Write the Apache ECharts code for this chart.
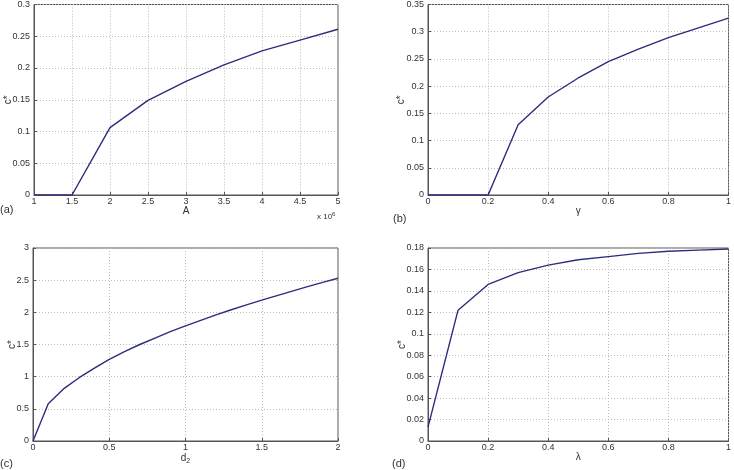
<!DOCTYPE html>
<html><head><meta charset="utf-8">
<script src="https://cdn.jsdelivr.net/npm/echarts@6/dist/echarts.min.js"></script>
<style>html,body{margin:0;padding:0;background:#fff}#c{width:734px;height:470px}</style>
</head><body><div id="c"></div>
<script>
// Panel (a): A (x 10^6) vs c*
const aX = [1, 1.5, 2, 2.5, 3, 3.5, 4, 4.5, 5];
const aY = [0, 0, 0.106, 0.149, 0.179, 0.205, 0.227, 0.244, 0.261];
// Panel (b): gamma vs c*
const bX = [0, 0.1, 0.2, 0.3, 0.4, 0.5, 0.6, 0.7, 0.8, 0.9, 1.0];
const bY = [0, 0, 0, 0.129, 0.180, 0.215, 0.245, 0.268, 0.289, 0.307, 0.325];
// Panel (c): d2 vs c*
const cX = [0, 0.1, 0.2, 0.3, 0.4, 0.5, 0.6, 0.7, 0.8, 0.9, 1.0, 1.1, 1.2, 1.3, 1.4, 1.5, 1.6, 1.7, 1.8, 1.9, 2.0];
const cY = [0, 0.58, 0.81, 0.98, 1.13, 1.27, 1.39, 1.50, 1.60, 1.70, 1.79, 1.875, 1.96, 2.04, 2.115, 2.19, 2.26, 2.33, 2.40, 2.465, 2.53];
// Panel (d): lambda vs c*
const dX = [0, 0.1, 0.2, 0.3, 0.4, 0.5, 0.6, 0.7, 0.8, 0.9, 1.0];
const dY = [0.013, 0.122, 0.146, 0.157, 0.164, 0.169, 0.172, 0.175, 0.177, 0.178, 0.179];

const FONT = '"Liberation Sans", Arial, sans-serif';
const LINE = '#2b2d7c';
const TXT = '#333';

const grids = [
  {left: 34, top: 3, width: 304, height: 192},
  {left: 428, top: 3, width: 305, height: 192},
  {left: 33, top: 248, width: 305, height: 193},
  {left: 428, top: 248, width: 305, height: 193}
].map(g => Object.assign(g, {show: true, borderColor: '#555', borderWidth: 1, backgroundColor: '#fff'}));

function xAx(i, min, max, interval, name, gap) {
  return {
    type: 'value', gridIndex: i, min, max, interval,
    name, nameLocation: 'middle', nameGap: gap, nameMoveOverlap: false,
    nameTextStyle: {fontFamily: FONT, fontSize: 10, color: TXT, rich: {n: {fontSize: 10, fontFamily: FONT, color: TXT}, sub: {fontSize: 7, padding: [6, 0, 0, 0], fontFamily: FONT, color: TXT}}},
    axisLine: {show: true, lineStyle: {color: '#555', width: 1}},
    axisTick: {show: true, inside: true, length: 3, lineStyle: {color: '#555'}},
    axisLabel: {fontFamily: FONT, fontSize: 9, color: TXT, margin: 2, showMinLabel: true, showMaxLabel: true},
    splitLine: {show: true, lineStyle: {color: '#bbb', type: [1, 2], width: 1}}
  };
}
function yAx(i, min, max, interval, gap) {
  return {
    type: 'value', gridIndex: i, min, max, interval,
    name: 'c*', nameLocation: 'middle', nameGap: gap, nameRotate: 90, nameMoveOverlap: false,
    nameTextStyle: {fontFamily: FONT, fontSize: 10, color: TXT},
    axisLine: {show: true, lineStyle: {color: '#555', width: 1}},
    axisTick: {show: true, inside: true, length: 3, lineStyle: {color: '#555'}},
    axisLabel: {fontFamily: FONT, fontSize: 9, color: TXT, margin: 4, showMinLabel: true, showMaxLabel: true},
    splitLine: {show: true, lineStyle: {color: '#bbb', type: [1, 2], width: 1}}
  };
}

function ser(i, xs, ys) {
  return {
    type: 'line', xAxisIndex: i, yAxisIndex: i, showSymbol: false, symbol: 'none',
    data: xs.map((x, k) => [x, ys[k]]),
    lineStyle: {color: LINE, width: 1.4}, animation: false
  };
}

const option = {
  animation: false,
  grid: grids,
  xAxis: [
    xAx(0, 1, 5, 0.5, 'A', 11),
    xAx(1, 0, 1, 0.2, 'γ', 11),
    xAx(2, 0, 2, 0.5, '{n|d}{sub|2}', 11),
    xAx(3, 0, 1, 0.2, 'λ', 11)
  ],
  yAxis: [
    yAx(0, 0, 0.3, 0.05, 21),
    yAx(1, 0, 0.35, 0.05, 22),
    yAx(2, 0, 3, 0.5, 16),
    yAx(3, 0, 0.18, 0.02, 21)
  ],
  series: [ser(0, aX, aY), ser(1, bX, bY), ser(2, cX, cY), ser(3, dX, dY)],
  graphic: [
    {type: 'text', left: 0, top: 204, style: {text: '(a)', font: '11px ' + FONT, fill: TXT}},
    {type: 'text', left: 393, top: 213, style: {text: '(b)', font: '11px ' + FONT, fill: TXT}},
    {type: 'text', left: 0, top: 458, style: {text: '(c)', font: '11px ' + FONT, fill: TXT}},
    {type: 'text', left: 392, top: 458, style: {text: '(d)', font: '11px ' + FONT, fill: TXT}},
    {type: 'text', left: 317, top: 211, style: {text: 'x 10{s|6}', font: '8px ' + FONT, fill: TXT,
      rich: {s: {fontSize: 6, fontFamily: FONT, fill: TXT, padding: [0, 0, 5, 0]}}}}
  ]
};
const chart = echarts.init(document.getElementById('c'), null, {renderer: 'canvas'});
chart.setOption(option);
</script></body></html>
